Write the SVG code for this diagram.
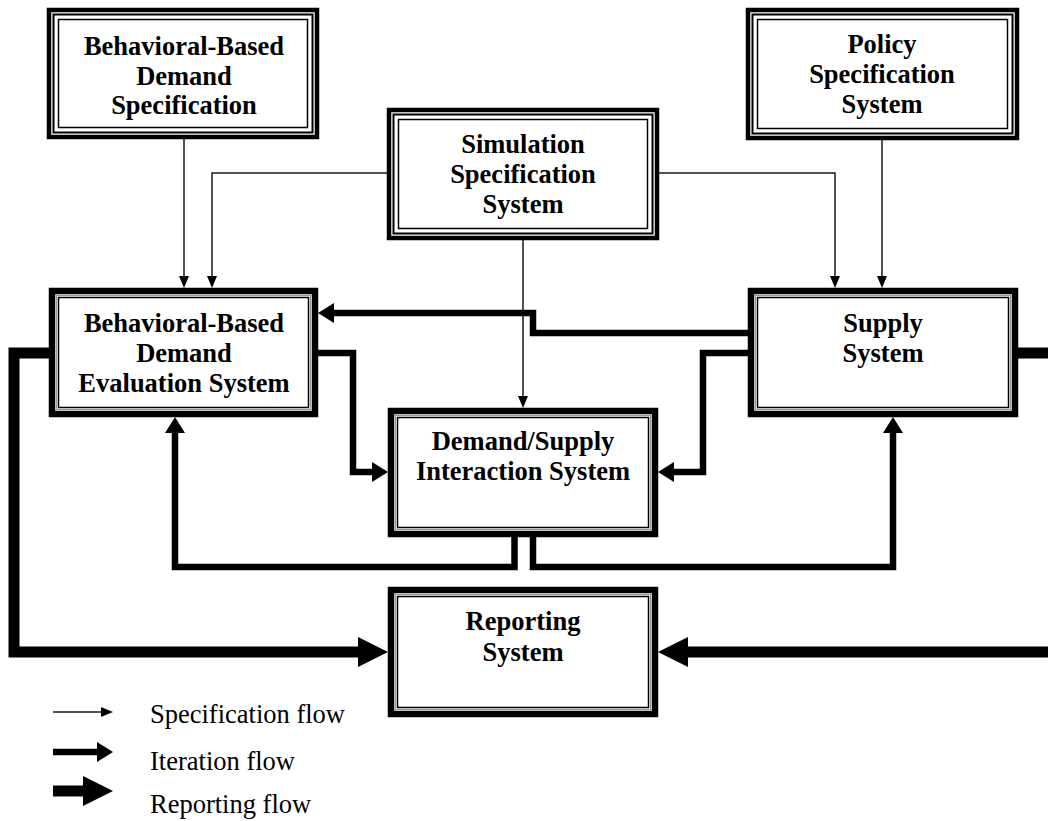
<svg xmlns="http://www.w3.org/2000/svg" width="1048" height="821" viewBox="0 0 1048 821">
<style>
  .bg{fill:#fff}
  .t{font-family:"Liberation Serif","Times New Roman",serif;font-weight:bold;font-size:26.5px;fill:#000;text-anchor:middle}
  .lg{font-family:"Liberation Serif","Times New Roman",serif;font-size:26.5px;fill:#000}
  .o4{fill:#fff;stroke:#000;stroke-width:4.5}
  .m2{fill:none;stroke:#000;stroke-width:2}
  .i15{fill:none;stroke:#000;stroke-width:1.5}
  .o6{fill:#fff;stroke:#000;stroke-width:6.5}
  .g2{fill:none;stroke:#999;stroke-width:1}
  .spec{fill:none;stroke:#1a1a1a;stroke-width:1.5}
  .iter{fill:none;stroke:#000;stroke-width:6.5;stroke-linejoin:miter}
  .rep{fill:none;stroke:#000;stroke-width:11;stroke-linejoin:miter}
</style>
<defs>
  <marker id="ah-s" markerUnits="userSpaceOnUse" markerWidth="12" markerHeight="10" refX="0" refY="5" orient="auto" overflow="visible">
    <path d="M0,0 L12,5 L0,10 z" fill="#000"/>
  </marker>
  <marker id="ah-i" markerUnits="userSpaceOnUse" markerWidth="16" markerHeight="20" refX="0" refY="10" orient="auto" overflow="visible">
    <path d="M0,0 L16,10 L0,20 z" fill="#000"/>
  </marker>
  <marker id="ah-r" markerUnits="userSpaceOnUse" markerWidth="30" markerHeight="30" refX="0" refY="15" orient="auto" overflow="visible">
    <path d="M0,0 L30,15 L0,30 z" fill="#000"/>
  </marker>
</defs>
<rect class="bg" x="0" y="0" width="1048" height="821"/>

<g id="connectors">
  <!-- specification flows -->
  <path class="spec" d="M184,139 V276" marker-end="url(#ah-s)"/>
  <path class="spec" d="M387,173 H212 V276" marker-end="url(#ah-s)"/>
  <path class="spec" d="M659,173 H835 V276" marker-end="url(#ah-s)"/>
  <path class="spec" d="M882,140 V276" marker-end="url(#ah-s)"/>
  <path class="spec" d="M523,240 V396" marker-end="url(#ah-s)"/>
  <!-- iteration flows -->
  <path class="iter" d="M748,333 H533 V313 H334" marker-end="url(#ah-i)"/>
  <path class="iter" d="M318,353 H353 V472 H372" marker-end="url(#ah-i)"/>
  <path class="iter" d="M748,353 H703 V472 H674" marker-end="url(#ah-i)"/>
  <path class="iter" d="M514.5,537 V567 H175 V433" marker-end="url(#ah-i)"/>
  <path class="iter" d="M533,537 V567 H893 V433" marker-end="url(#ah-i)"/>
  <!-- reporting flows -->
  <path class="rep" d="M49,353 H14 V652 H358" marker-end="url(#ah-r)"/>
  <path class="rep" d="M1018,353 H1053.5 V652 H688" marker-end="url(#ah-r)"/>
</g>

<g id="bbds">
  <rect class="o4" x="49" y="10" width="268" height="127"/>
  <rect class="m2" x="53.5" y="14.5" width="259" height="118"/>
  <rect class="i15" x="58.5" y="19.5" width="249" height="108"/>
  <text class="t" x="184" y="55">Behavioral-Based</text>
  <text class="t" x="184" y="85">Demand</text>
  <text class="t" x="184" y="114">Specification</text>
</g>

<g id="sim">
  <rect class="o4" x="389" y="110" width="268" height="128"/>
  <rect class="m2" x="393.5" y="114.5" width="259" height="119"/>
  <rect class="i15" x="398.5" y="119.5" width="249" height="109"/>
  <text class="t" x="523" y="153">Simulation</text>
  <text class="t" x="523" y="183">Specification</text>
  <text class="t" x="523" y="213">System</text>
</g>

<g id="policy">
  <rect class="o4" x="748" y="10" width="269" height="128"/>
  <rect class="m2" x="752.5" y="14.5" width="260" height="119"/>
  <rect class="i15" x="757.5" y="19.5" width="250" height="109"/>
  <text class="t" x="882" y="53">Policy</text>
  <text class="t" x="882" y="83">Specification</text>
  <text class="t" x="882" y="113">System</text>
</g>

<g id="bbdes">
  <rect class="o6" x="52" y="291" width="263" height="123"/>
  <rect class="g2" x="56.5" y="295.5" width="254" height="114"/>
  <rect class="i15" x="58.5" y="297.5" width="250" height="110"/>
  <text class="t" x="184" y="332">Behavioral-Based</text>
  <text class="t" x="184" y="362">Demand</text>
  <text class="t" x="184" y="392">Evaluation System</text>
</g>

<g id="supply">
  <rect class="o6" x="751" y="291" width="264" height="123"/>
  <rect class="g2" x="755.5" y="295.5" width="255" height="114"/>
  <rect class="i15" x="757.5" y="297.5" width="251" height="110"/>
  <text class="t" x="883" y="332">Supply</text>
  <text class="t" x="883" y="362">System</text>
</g>

<g id="dsi">
  <rect class="o6" x="391" y="411" width="264" height="123"/>
  <rect class="g2" x="395.5" y="415.5" width="255" height="114"/>
  <rect class="i15" x="397.5" y="417.5" width="251" height="110"/>
  <text class="t" x="523" y="450">Demand/Supply</text>
  <text class="t" x="523" y="480">Interaction System</text>
</g>

<g id="reporting">
  <rect class="o6" x="391" y="590" width="264" height="124"/>
  <rect class="g2" x="395.5" y="594.5" width="255" height="115"/>
  <rect class="i15" x="397.5" y="596.5" width="251" height="111"/>
  <text class="t" x="523" y="630">Reporting</text>
  <text class="t" x="523" y="661">System</text>
</g>

<g id="legend">
  <path class="spec" d="M53,712 H101" marker-end="url(#ah-s)"/>
  <path class="iter" d="M53,752 H97" marker-end="url(#ah-i)"/>
  <path class="rep" d="M53,791 H83" marker-end="url(#ah-r)"/>
  <text class="lg" x="150" y="723">Specification flow</text>
  <text class="lg" x="150" y="770">Iteration flow</text>
  <text class="lg" x="150" y="813">Reporting flow</text>
</g>
</svg>
